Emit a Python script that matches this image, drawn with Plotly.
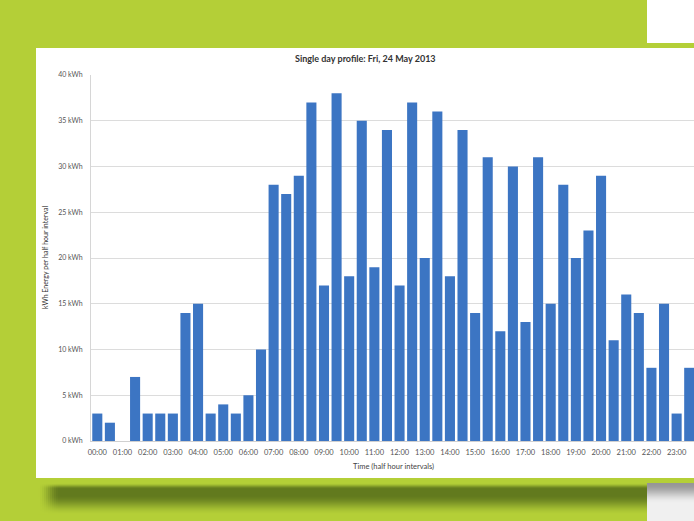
import plotly.graph_objects as go

# ---- data ----
slots = [f"{h:02d}:{m:02d}" for h in range(24) for m in (0, 30)]
energy_kwh = [3, 2, 0, 7, 3, 3, 3, 14, 15, 3, 4, 3, 5, 10, 28, 27, 29, 37, 17, 38,
              18, 35, 19, 34, 17, 37, 20, 36, 18, 34, 14, 31, 12, 30, 13, 31, 15, 28,
              20, 23, 29, 11, 16, 14, 8, 15, 3, 8]
hour_labels = [f"{h:02d}:00" for h in range(24)]
y_ticks = [0, 5, 10, 15, 20, 25, 30, 35, 40]
y_tick_text = [f"{v} kWh" for v in y_ticks]

W, H = 694, 521
L, R, T, B = 91, 0, 75, 80
PW, PH = W - L - R, H - T - B

def fx(px):
    return (px - L) / PW

def fy(py):
    return (H - B - py) / PH

GREEN = (180, 207, 55)
shapes = []

def rect(x0, y0, x1, y1, color, layer="below"):
    shapes.append(dict(type="rect", xref="paper", yref="paper",
                       x0=fx(x0), x1=fx(x1), y0=fy(y1), y1=fy(y0),
                       fillcolor=color, line=dict(width=0), layer=layer))

def lerp(a, b, t):
    return tuple(int(round(a[i] + (b[i] - a[i]) * t)) for i in range(3))

def smooth(t):
    t = min(1.0, max(0.0, t))
    return t * t * (3 - 2 * t)

# white top-right patch
rect(647, -2, 700, 43, "#ffffff")
# white card
rect(36, 48, 700, 478, "#ffffff")

# soft shadow under card
DARK = (98, 122, 30)
def vprof(y):
    if y < 483:
        return 0.0
    if y < 489:
        return smooth((y - 483) / 6.0)
    if y < 495:
        return 1.0
    return 1.0 - smooth((y - 495) / 20.0)

xcols = [(x, x + 2) for x in range(38, 62, 2)] + [(62, 647)]
for y in range(482, 521):
    v = vprof(y + 0.5)
    if v <= 0.01:
        continue
    for (x0, x1) in xcols:
        h = smooth(((x0 + x1) / 2 - 38) / 22.0)
        c = lerp(GREEN, DARK, v * h)
        rect(x0, y, x1 + 0.05, y + 1.05, "rgb(%d,%d,%d)" % c)

# grey shadow at right
top_w = (150, 150, 150)
bot_w = (240, 240, 240)
for y in range(483, 521):
    cw = lerp(top_w, bot_w, smooth((y - 483) / 20.0))
    rect(647, y, 700, y + 1.05, "rgb(%d,%d,%d)" % cw)

fig = go.Figure()
fig.add_trace(go.Bar(
    x=slots, y=energy_kwh,
    marker=dict(color="#3c75c3", line=dict(width=0)),
    hoverinfo="x+y",
))

fig.update_layout(
    width=W, height=H,
    margin=dict(l=L, r=R, t=T, b=B, pad=0),
    paper_bgcolor="rgb(%d,%d,%d)" % GREEN,
    plot_bgcolor="rgba(0,0,0,0)",
    bargap=0.2,
    showlegend=False,
    font=dict(family="Lato, Open Sans, sans-serif", color="#555555", size=7),
    shapes=shapes,
    xaxis=dict(
        type="category",
        range=[-0.5, 47.38],
        tickmode="array",
        tickvals=hour_labels,
        ticktext=hour_labels,
        tickangle=0,
        showgrid=False,
        showline=True,
        linecolor="#d0d0d0",
        linewidth=1,
        ticks="",
        tickfont=dict(size=7.5, color="#555555"),
        ticklabelstandoff=4,
    ),
    yaxis=dict(
        range=[0, 40],
        tickmode="array",
        tickvals=y_ticks,
        ticktext=y_tick_text,
        showgrid=True,
        gridcolor="#dcdcdc",
        gridwidth=1,
        showline=True,
        linecolor="#d6d6d6",
        zeroline=False,
        ticks="",
        tickfont=dict(size=7, color="#555555"),
        ticklabelstandoff=6,
    ),
    annotations=[
        dict(text="<b>Single day profile: Fri, 24 May 2013</b>", xref="paper", yref="paper",
             x=fx(365), y=fy(58), showarrow=False, xanchor="center", yanchor="middle",
             font=dict(size=9, color="#333333")),
        dict(text="kWh Energy per half hour interval", xref="paper", yref="paper",
             x=fx(45), y=fy(258), showarrow=False, textangle=-90,
             xanchor="center", yanchor="middle", font=dict(size=7, color="#333333")),
        dict(text="Time (half hour intervals)", xref="paper", yref="paper",
             x=fx(393), y=fy(466), showarrow=False, xanchor="center", yanchor="middle",
             font=dict(size=7.5, color="#444444")),
    ],
)

fig.write_html("out.html")
